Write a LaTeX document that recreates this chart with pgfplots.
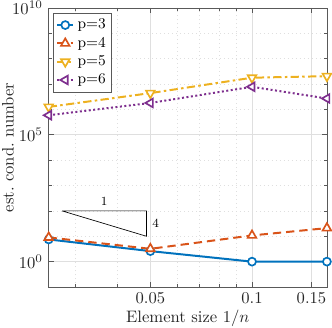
\documentclass[border=0pt]{standalone}
\usepackage{pgfplots}
\pgfplotsset{compat=1.18}
\definecolor{mblue}{rgb}{0,0.447,0.741}
\definecolor{morange}{rgb}{0.850,0.325,0.098}
\definecolor{myellow}{rgb}{0.929,0.694,0.125}
\definecolor{mpurple}{rgb}{0.494,0.184,0.556}
\definecolor{axgray}{rgb}{0.15,0.15,0.15}
\begin{document}
\begin{tikzpicture}
\useasboundingbox (-29.34pt,-24.1pt) rectangle (170.66pt,172.9pt);
\begin{axis}[
  scale only axis,
  width=167.6pt, height=168.1pt,
  xmode=log, ymode=log,
  xmin=0.025, xmax=0.166667,
  ymin=1e-1, ymax=1e10,
  xtick={0.05,0.1,0.15},
  xticklabels={0.05,0.1,0.15},
  minor xtick={0.03,0.04,0.06,0.07,0.08,0.09},
  ytick={1e0,1e5,1e10},
  minor ytick={1e-1,1e1,1e2,1e3,1e4,1e6,1e7,1e8,1e9},
  grid=both,
  major grid style={gray!25, line width=0.4pt},
  minor grid style={gray!25, dotted, line width=0.4pt},
  axis line style={gray!70!black, line width=0.4pt},
  tick style={gray!70!black, line width=0.4pt},
  major tick length=3pt, minor tick length=2pt,
  tick align=inside,
  ticklabel style={font=\fontsize{10}{12}\selectfont, text=axgray},
  xlabel={Element size $1/n$},
  ylabel={est.\ cond.\ number},
  label style={text=axgray},
  xlabel style={at={(axis description cs:0.5,-0.111)}, anchor=center},
  ylabel style={at={(axis description cs:-0.146,0.5)}, anchor=center},
  clip=false,
  legend style={at={(0.017,0.983)}, anchor=north west, font=\small,
    draw=gray!70!black, line width=0.4pt, inner sep=1.5pt, row sep=-0.5pt,
    cells={anchor=west}},
  legend image code/.code={\draw[mark repeat=2,mark phase=2,#1] plot coordinates {(0cm,0cm) (0.17cm,0cm) (0.34cm,0cm)};},
  every axis plot/.append style={line width=1.2pt},
]
\addplot[mblue, solid, mark=*, mark size=2.4pt, mark options={solid, fill=white, line width=1.0pt}] coordinates {
  (0.025,7.5) (0.05,2.6) (0.1,1.0) (0.166667,1.0)};
\addlegendentry{p=3}
\addplot[morange, dash pattern=on 5pt off 3pt, mark=triangle*, mark size=3pt, mark options={solid, fill=white, line width=1.0pt}] coordinates {
  (0.025,9.0) (0.05,3.2) (0.1,10.8) (0.166667,21)};
\addlegendentry{p=4}
\addplot[myellow, dash pattern=on 5pt off 2pt on 1.5pt off 2pt, mark=triangle*, mark size=3pt, mark options={solid, fill=white, line width=1.0pt, rotate=180}] coordinates {
  (0.025,1.26e6) (0.05,4.4e6) (0.1,1.78e7) (0.166667,2.05e7)};
\addlegendentry{p=5}
\addplot[mpurple, dash pattern=on 1.2pt off 1.5pt, mark=triangle*, mark size=3pt, mark options={solid, fill=white, line width=1.0pt, rotate=90}] coordinates {
  (0.025,5.9e5) (0.05,1.8e6) (0.1,7.8e6) (0.166667,2.7e6)};
\addlegendentry{p=6}
\addplot[black, line width=0.4pt, mark=none, forget plot] coordinates {
  (0.0274,100) (0.0487,100) (0.0487,10) (0.0274,100)};
\node[font=\fontsize{7.5}{9}\selectfont, anchor=south] at (axis cs:0.0365,100) {1};
\node[font=\fontsize{7.5}{9}\selectfont, anchor=west] at (axis cs:0.0487,31.6) {4};
\end{axis}
\end{tikzpicture}
\end{document}
